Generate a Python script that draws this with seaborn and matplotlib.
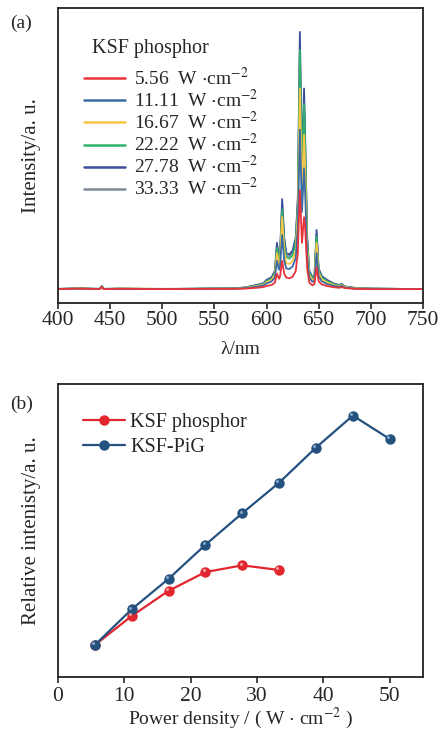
import numpy as np
import pandas as pd
import matplotlib
matplotlib.use("Agg")
import matplotlib.pyplot as plt
import matplotlib.transforms as mtransforms
import seaborn as sns

# ---------------- data ----------------
wavelength = [400, 420, 440, 442, 444, 460, 500, 540, 570, 580, 590, 597, 600, 605, 608,
              610, 612, 613, 615, 617, 619, 622, 625, 628, 630, 632, 634, 636, 637, 639,
              641, 644, 646, 648, 650, 653, 658, 665, 670, 672, 675, 685, 700, 750]

spec_5_56 = [0.0, 0.002, 0.0, 0.008, 0.0, 0.001, 0.0, 0.001, 0.001, 0.002, 0.005, 0.008, 0.012, 0.016, 0.025,
             0.06, 0.04, 0.05, 0.11, 0.06, 0.045, 0.042, 0.048, 0.07, 0.14, 0.385, 0.18, 0.28, 0.24, 0.08,
             0.025, 0.015, 0.02, 0.085, 0.03, 0.018, 0.012, 0.007, 0.005, 0.008, 0.004, 0.001, 0.0, 0.0]
spec_11_11 = [0.001, 0.002, 0.001, 0.009, 0.001, 0.001, 0.0, 0.001, 0.002, 0.004, 0.009, 0.014, 0.022, 0.03, 0.045,
              0.11, 0.075, 0.09, 0.21, 0.11, 0.08, 0.078, 0.088, 0.12, 0.24, 0.62, 0.3, 0.47, 0.38, 0.13,
              0.045, 0.028, 0.032, 0.14, 0.05, 0.03, 0.02, 0.012, 0.009, 0.013, 0.006, 0.002, 0.001, 0.0]
spec_16_67 = [0.0, 0.003, 0.0, 0.01, 0.0, 0.002, 0.001, 0.001, 0.002, 0.005, 0.011, 0.017, 0.027, 0.036, 0.055,
              0.14, 0.095, 0.11, 0.28, 0.15, 0.1, 0.098, 0.11, 0.15, 0.29, 0.78, 0.38, 0.6, 0.48, 0.16,
              0.055, 0.035, 0.04, 0.18, 0.062, 0.038, 0.026, 0.015, 0.011, 0.016, 0.008, 0.003, 0.001, 0.0]
spec_22_22 = [0.001, 0.003, 0.001, 0.011, 0.001, 0.002, 0.0, 0.002, 0.003, 0.006, 0.013, 0.02, 0.031, 0.041, 0.063,
              0.16, 0.11, 0.125, 0.31, 0.18, 0.125, 0.118, 0.132, 0.18, 0.33, 0.93, 0.44, 0.72, 0.56, 0.19,
              0.065, 0.042, 0.046, 0.205, 0.072, 0.045, 0.031, 0.018, 0.013, 0.018, 0.009, 0.004, 0.002, 0.0]
spec_27_78 = [0.0, 0.003, 0.0, 0.012, 0.0, 0.002, 0.0, 0.002, 0.003, 0.006, 0.015, 0.022, 0.035, 0.045, 0.07,
              0.18, 0.12, 0.14, 0.35, 0.2, 0.14, 0.135, 0.15, 0.2, 0.35, 1.0, 0.48, 0.78, 0.6, 0.2,
              0.07, 0.045, 0.05, 0.23, 0.08, 0.05, 0.035, 0.02, 0.015, 0.02, 0.01, 0.004, 0.002, 0.0]
spec_33_33 = [0.001, 0.002, 0.001, 0.011, 0.001, 0.002, 0.001, 0.002, 0.003, 0.007, 0.016, 0.023, 0.036, 0.047, 0.072,
              0.17, 0.118, 0.135, 0.33, 0.19, 0.13, 0.128, 0.142, 0.19, 0.34, 0.95, 0.46, 0.74, 0.58, 0.2,
              0.072, 0.047, 0.052, 0.215, 0.078, 0.05, 0.036, 0.021, 0.016, 0.021, 0.011, 0.005, 0.002, 0.0]

series_labels = ["5.56  W $\\cdot$cm$^{-2}$", "11.11  W $\\cdot$cm$^{-2}$", "16.67  W $\\cdot$cm$^{-2}$",
                 "22.22  W $\\cdot$cm$^{-2}$", "27.78  W $\\cdot$cm$^{-2}$", "33.33  W $\\cdot$cm$^{-2}$"]
series_colors = ["#e8333b", "#3a6ca6", "#f7c545", "#2fb36c", "#3c4c9c", "#7d8b99"]

power_ksf = [5.56, 11.11, 16.67, 22.22, 27.78, 33.33]
rel_ksf = [10.9, 20.8, 29.4, 35.8, 38.1, 36.5]
power_pig = [5.56, 11.11, 16.67, 22.22, 27.78, 33.33, 38.89, 44.44, 50.0]
rel_pig = [10.9, 23.1, 33.5, 45.1, 55.9, 66.3, 78.3, 89.2, 81.2]

# ---------------- style ----------------
sns.set_theme(style="white")
plt.rcParams["font.family"] = ["Liberation Serif", "DejaVu Serif"]
plt.rcParams["mathtext.fontset"] = "stix"

fig = plt.figure(figsize=(4.39, 7.34), dpi=100)
ax1 = fig.add_axes([0.132, 0.5872, 0.8314, 0.4019])
ax2 = fig.add_axes([0.132, 0.0777, 0.8314, 0.3992])

# ---------------- (a) spectra ----------------
spectra = [spec_5_56, spec_11_11, spec_16_67, spec_22_22, spec_27_78, spec_33_33]
frames = []
for lab, vals in zip(series_labels, spectra):
    frames.append(pd.DataFrame({"wl": wavelength, "I": vals, "series": lab}))
df_spec = pd.concat(frames, ignore_index=True)

sns.lineplot(data=df_spec, x="wl", y="I", hue="series", hue_order=series_labels[::-1],
             palette=dict(zip(series_labels, series_colors)), linewidth=1.3, ax=ax1,
             legend=False)
for lab, col in zip(series_labels, series_colors):
    ax1.plot([], [], color=col, lw=1.8, label=lab)

ax1.set_xlim(400, 750)
ax1.set_ylim(-0.054, 1.093)
ax1.set_xticks([400, 450, 500, 550, 600, 650, 700, 750])
ax1.set_yticks([])
ax1.tick_params(axis="x", direction="out", length=4, width=1.2, labelsize=15.5, pad=2, bottom=True)
ax1.set_xlabel("λ/nm", fontsize=14, labelpad=8)
ax1.set_ylabel("Intensity/a. u.", fontsize=15, labelpad=12)
ax1.text(0.093, 0.864, "KSF phosphor", transform=ax1.transAxes, fontsize=14.5,
         ha="left", va="center")
leg1 = ax1.legend(loc="upper left", bbox_to_anchor=(0.072, 0.80), frameon=False, fontsize=14,
                  handlelength=2.1, handletextpad=0.45, labelspacing=0.0, borderaxespad=0,
                  borderpad=0)
fig.text(0.022, 0.962, "(a)", fontsize=14)

# ---------------- (b) relative intensity ----------------
df_b = pd.concat([
    pd.DataFrame({"p": power_ksf, "r": rel_ksf, "sample": "KSF phosphor"}),
    pd.DataFrame({"p": power_pig, "r": rel_pig, "sample": "KSF-PiG"}),
], ignore_index=True)
pal_b = {"KSF phosphor": "#e2262f", "KSF-PiG": "#25517f"}
sns.lineplot(data=df_b, x="p", y="r", hue="sample", palette=pal_b, marker="o",
             markersize=7.5, markeredgewidth=0, linewidth=1.6, ax=ax2)
# highlights on the sphere markers (slightly up-left)
hl = mtransforms.offset_copy(ax2.transData, fig=fig, x=-1.2, y=1.2, units="points")
ax2.scatter(power_ksf, rel_ksf, s=5, color="#f29a9a", zorder=5, linewidths=0, transform=hl)
ax2.scatter(power_pig, rel_pig, s=5, color="#7fa2c8", zorder=5, linewidths=0, transform=hl)

ax2.set_xlim(0, 55)
ax2.set_ylim(0, 100)
ax2.set_xticks([0, 10, 20, 30, 40, 50])
ax2.set_yticks([])
ax2.tick_params(axis="x", direction="out", length=4, width=1.2, labelsize=15.5, pad=3, bottom=True)
ax2.set_xlabel("Power density / ( W $\\cdot$ cm$^{-2}$ )", fontsize=14, labelpad=0)
ax2.set_ylabel("Relative intenisty/a. u.", fontsize=15, labelpad=12)
leg2 = ax2.legend(loc="upper left", bbox_to_anchor=(0.068, 0.9), frameon=False, fontsize=14.5,
                  handlelength=2.1, handletextpad=0.25, labelspacing=0.3, borderaxespad=0,
                  borderpad=0, title=None)
fig.text(0.022, 0.443, "(b)", fontsize=14)

for ax in (ax1, ax2):
    for s in ax.spines.values():
        s.set_visible(True)
        s.set_color("#222222")
        s.set_linewidth(1.3)

fig.savefig("out.png", dpi=100)
